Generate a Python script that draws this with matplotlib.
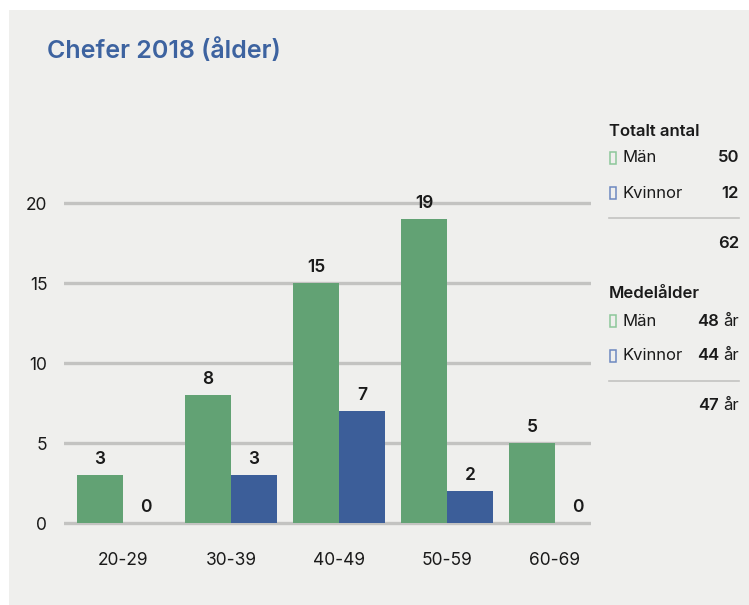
import matplotlib
matplotlib.use("Agg")
import matplotlib.pyplot as plt
from matplotlib.patches import Rectangle
from matplotlib.lines import Line2D
import numpy as np

plt.rcParams['font.family'] = ['Inter', 'DejaVu Sans']

categories = ["20-29", "30-39", "40-49", "50-59", "60-69"]
man = [3, 8, 15, 19, 5]
kvinnor = [0, 3, 7, 2, 0]
yticks = [0, 5, 10, 15, 20]

title = "Chefer 2018 (ålder)"
total_title = "Totalt antal"
total_labels = ["Män", "Kvinnor"]
total_values = ["50", "12"]
total_sum = "62"
age_title = "Medelålder"
age_values = ["48", "44"]
age_mean = "47"
unit = "år"

GREEN = "#62a274"
BLUE = "#3c5e99"
BG = "#efefed"
GRID = "#c3c3c1"
TITLE_C = "#3d63a0"

W, H = 749, 605
fig = plt.figure(figsize=(W / 100, H / 100), dpi=100)
fig.patch.set_facecolor("white")

def P(x, y):
    return (x / W, 1 - y / H)

# grey panel
fig.patches.append(Rectangle(P(9, 605), (W - 9) / W, (605 - 10) / H,
                             transform=fig.transFigure, facecolor=BG,
                             edgecolor="none", zorder=-5))

# axes: 1 unit x = 108 px; 1 unit y = 16 px
ax_left, ax_right = 64, 591
y0 = 523
ymin, ymax = -0.5, 22
ax = fig.add_axes([ax_left / W, (H - (y0 + -ymin * 16)) / H,
                   (ax_right - ax_left) / W, (ymax - ymin) * 16 / H])
ax.set_zorder(2)
ax.set_facecolor("none")
ax.patch.set_alpha(0)
ax.set_xlim(-59 / 108, 4 + 36 / 108)
ax.set_ylim(ymin, ymax)

x = np.arange(len(categories))
bw = 46 / 108
ax.bar(x - bw / 2, man, width=bw, color=GREEN, zorder=3)
ax.bar(x + bw / 2, kvinnor, width=bw, color=BLUE, zorder=3)

for t in yticks:
    ax.axhline(t, color=GRID, lw=2.4, zorder=1)

dark = "#1a1a1a"
for xs, vals in ((x - bw / 2, man), (x + bw / 2, kvinnor)):
    for xi, v in zip(xs, vals):
        ax.annotate(str(v), (xi, v), xytext=(0, 11.5), textcoords="offset points",
                    ha="center", va="center", fontsize=12.5, fontweight="semibold",
                    color=dark)

ax.set_yticks(yticks)
ax.set_yticklabels([str(t) for t in yticks], fontsize=12.5, color=dark)
ax.set_xticks(x)
ax.set_xticklabels(categories, fontsize=12.5, color=dark)
ax.tick_params(axis="y", length=0, pad=12)
ax.tick_params(axis="x", length=0, pad=15)
for s in ax.spines.values():
    s.set_visible(False)

# title
fig.text(*P(47, 51), title, fontsize=18, fontweight="semibold", color=TITLE_C,
         ha="left", va="center")

# legend panel
LX, RX = 609, 739
fs = 12

def box(y, col):
    fig.patches.append(Rectangle(P(610, y + 6), 6 / W, 12 / H,
                                 transform=fig.transFigure, facecolor="none",
                                 edgecolor=col, lw=1.1, zorder=5))

def hline(y):
    fig.lines.append(Line2D([LX / W, RX / W], [1 - y / H, 1 - y / H],
                            transform=fig.transFigure, color=GRID, lw=1.2))

fig.text(*P(LX, 131), total_title, fontsize=fs, fontweight="semibold", color=dark,
         ha="left", va="center")
rows_y = [158, 193]
box_cols = ["#8cc79a", "#6d88c0"]
for yy, lab, val, bc in zip(rows_y, total_labels, total_values, box_cols):
    box(yy, bc)
    fig.text(*P(622, yy), lab, fontsize=fs, color=dark, ha="left", va="center")
    fig.text(*P(RX, yy), val, fontsize=fs, fontweight="semibold", color=dark,
             ha="right", va="center")
hline(218)
fig.text(*P(RX, 243), total_sum, fontsize=fs, fontweight="semibold", color=dark,
         ha="right", va="center")

fig.text(*P(LX, 294), age_title, fontsize=fs, fontweight="semibold", color=dark,
         ha="left", va="center")
rows_y2 = [321, 356]
for yy, lab, val, bc in zip(rows_y2, total_labels, age_values, box_cols):
    box(yy, bc)
    fig.text(*P(622, yy), lab, fontsize=fs, color=dark, ha="left", va="center")
    fig.text(*P(RX, yy), unit, fontsize=fs, color=dark, ha="right", va="center")
    fig.text(*P(RX - 20, yy), val, fontsize=fs, fontweight="semibold", color=dark,
             ha="right", va="center")
hline(381)
fig.text(*P(RX, 406), unit, fontsize=fs, color=dark, ha="right", va="center")
fig.text(*P(RX - 20, 406), age_mean, fontsize=fs, fontweight="semibold", color=dark,
         ha="right", va="center")

fig.savefig("out.png", dpi=100, facecolor=fig.get_facecolor())
